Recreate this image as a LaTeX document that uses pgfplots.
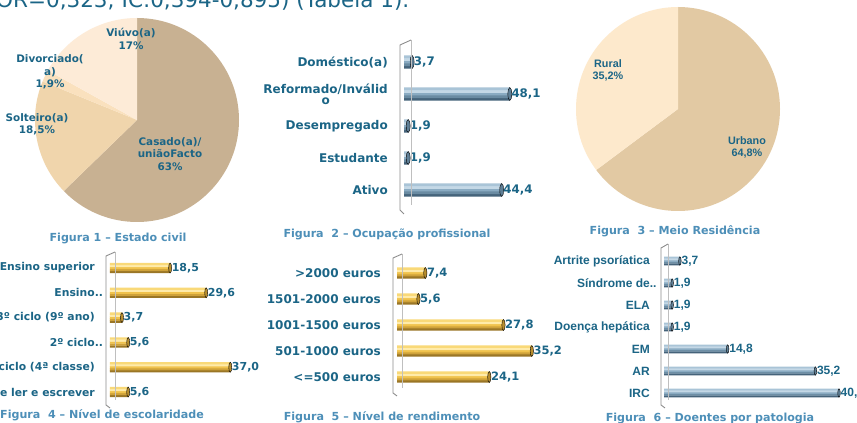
\documentclass[border=0pt]{standalone}
\usepackage{pgfplots}
\pgfplotsset{compat=1.18}
\usepackage{pgfplotstable}
\usepackage{fontspec}
\setmainfont{DejaVu Sans}
\newfontfamily\arialf{Liberation Sans}
\definecolor{lab}{HTML}{1B6586}
\definecolor{cap}{HTML}{4D8FB8}
\definecolor{cA}{HTML}{C8B192}
\definecolor{cB}{HTML}{F0D5AC}
\definecolor{cC}{HTML}{FAE1BE}
\definecolor{cD}{HTML}{FDEBD7}
\definecolor{uA}{HTML}{E2C9A3}
\definecolor{uB}{HTML}{FDE9CC}
\definecolor{b0}{HTML}{45637A}
\definecolor{b1}{HTML}{6A8BA2}
\definecolor{b2}{HTML}{8AABC2}
\definecolor{b3}{HTML}{A9C4D7}
\definecolor{b4}{HTML}{C4D8E6}
\definecolor{bE}{HTML}{5F7F96}
\definecolor{g0}{HTML}{9A7626}
\definecolor{g1}{HTML}{CFA23A}
\definecolor{g2}{HTML}{F0C24C}
\definecolor{g3}{HTML}{F9D978}
\definecolor{g4}{HTML}{FFEBAA}
\definecolor{gE}{HTML}{B88E2E}
\pgfplotstableread{
x y
44.4 0
1.9 1
1.9 2
48.1 3
3.7 4
}\dTwo
\pgfplotstableread{
x y
5.6 0
37.0 1
5.6 2
3.7 3
29.6 4
18.5 5
}\dFour
\pgfplotstableread{
x y
24.1 0
35.2 1
27.8 2
5.6 3
7.4 4
}\dFive
\pgfplotstableread{
x y
40.7 0
35.2 1
14.8 2
1.9 3
1.9 4
1.9 5
3.7 6
}\dSix
\pgfplotsset{
  hb/.style={scale only axis, anchor=south west, axis line style={draw=none},
    xtick=\empty, major tick length=0pt, clip=false, xmin=0, ymin=-0.5,
    yticklabel style={anchor=east, inner sep=0pt, text=lab}},
  strip/.style n args={3}{xbar, draw=none, fill=#1, bar width=#2, bar shift=#3},
  capm/.style 2 args={only marks, mark=*, mark size=#1, mark options={xscale=0.3, fill=#2, draw=none},
    point meta=x, nodes near coords={\pgfmathprintnumber[fixed,fixed zerofill,precision=1,use comma,assume math mode=true]{\pgfplotspointmeta}},
    every node near coord/.append style={anchor=west, inner sep=0pt, xshift=1.5bp, text=lab}},
}
\pgfmathsetmacro\pA{90-63/100.4*360}
\pgfmathsetmacro\pB{\pA-18.5/100.4*360}
\pgfmathsetmacro\pC{\pB-1.9/100.4*360}
\pgfmathsetmacro\qA{90-64.8/100*360}
\begin{document}
\begin{tikzpicture}
\path[use as bounding box] (0,0) rectangle (857bp,423bp);
\clip (0,0) rectangle (857bp,423bp);
\fill[white] (0,0) rectangle (857bp,423bp);
\node[anchor=base west, inner sep=0pt, text=lab, font=\fontsize{21.5bp}{24bp}\selectfont] at (-4bp,415.7bp) {OR=0,323; IC:0,394-0,895) (Tabela 1).};

% ---------- Figura 1 pie
\begin{axis}[at={(35bp,201bp)}, anchor=south west, scale only axis, width=204bp, height=204bp,
  xmin=-1, xmax=1, ymin=-1, ymax=1, hide axis, clip=false]
\fill[cA] (axis cs:0,0) -- ++(90:102bp) arc[start angle=90, end angle=\pA, radius=102bp] -- cycle;
\fill[cB] (axis cs:0,0) -- ++(\pA:102bp) arc[start angle=\pA, end angle=\pB, radius=102bp] -- cycle;
\fill[cC] (axis cs:0,0) -- ++(\pB:102bp) arc[start angle=\pB, end angle=\pC, radius=102bp] -- cycle;
\fill[cD] (axis cs:0,0) -- ++(\pC:102bp) arc[start angle=\pC, end angle=-270, radius=102bp] -- cycle;
\end{axis}

% ---------- Figura 3 pie
\begin{axis}[at={(576bp,212bp)}, anchor=south west, scale only axis, width=204bp, height=204bp,
  xmin=-1, xmax=1, ymin=-1, ymax=1, hide axis, clip=false]
\fill[uA] (axis cs:0,0) -- ++(90:102bp) arc[start angle=90, end angle=\qA, radius=102bp] -- cycle;
\fill[uB] (axis cs:0,0) -- ++(\qA:102bp) arc[start angle=\qA, end angle=-270, radius=102bp] -- cycle;
\end{axis}

% ---------- Figura 2
\begin{axis}[hb, at={(404bp,217bp)}, width=110bp, height=160bp, xmax=50, ymax=4.5,
  ytick={0,...,4},
  yticklabels={Ativo, Estudante, Desempregado, {\shortstack{Reformado/Inválid\\o}}, Doméstico(a)},
  yticklabel style={xshift=-16bp, font=\bfseries\fontsize{12bp}{13bp}\selectfont}]
\addplot[strip={b0}{2.9bp}{-5.2bp}] table[x=x,y=y]{\dTwo};
\addplot[strip={b1}{2.9bp}{-2.6bp}] table[x=x,y=y]{\dTwo};
\addplot[strip={b2}{2.9bp}{0bp}] table[x=x,y=y]{\dTwo};
\addplot[strip={b4}{2.9bp}{2.6bp}] table[x=x,y=y]{\dTwo};
\addplot[strip={b3}{2.9bp}{5.2bp}] table[x=x,y=y]{\dTwo};
\addplot[capm={6.5bp}{bE}, every node near coord/.append style={font=\bfseries\fontsize{11.8bp}{13bp}\selectfont}]
  table[x=x,y=y]{\dTwo};
\end{axis}

% ---------- Figura 4
\begin{axis}[hb, at={(110bp,18.6bp)}, width=130bp, height=148.8bp, xmax=40, ymax=5.5,
  ytick={0,...,5},
  yticklabels={Não sabe ler e escrever, 1º ciclo (4ª classe), 2º ciclo\rlap{..}, 3º ciclo (9º ano), Ensino\rlap{..}, Ensino superior},
  yticklabel style={xshift=-15bp, font=\bfseries\fontsize{10.8bp}{12bp}\selectfont}]
\addplot[strip={g0}{2.3bp}{-4bp}] table[x=x,y=y]{\dFour};
\addplot[strip={g1}{2.3bp}{-2bp}] table[x=x,y=y]{\dFour};
\addplot[strip={g2}{2.3bp}{0bp}] table[x=x,y=y]{\dFour};
\addplot[strip={g4}{2.3bp}{2bp}] table[x=x,y=y]{\dFour};
\addplot[strip={g3}{2.3bp}{4bp}] table[x=x,y=y]{\dFour};
\addplot[capm={5bp}{gE}, every node near coord/.append style={font=\bfseries\fontsize{11bp}{12bp}\selectfont}]
  table[x=x,y=y]{\dFour};
\end{axis}

% ---------- Figura 5
\begin{axis}[hb, at={(397bp,33bp)}, width=153.2bp, height=130bp, xmax=40, ymax=4.5,
  ytick={0,...,4},
  yticklabels={<=500 euros, 501-1000 euros, 1001-1500 euros, 1501-2000 euros, >2000 euros},
  yticklabel style={xshift=-16bp, font=\bfseries\fontsize{12bp}{13bp}\selectfont}]
\addplot[strip={g0}{2.5bp}{-4.4bp}] table[x=x,y=y]{\dFive};
\addplot[strip={g1}{2.5bp}{-2.2bp}] table[x=x,y=y]{\dFive};
\addplot[strip={g2}{2.5bp}{0bp}] table[x=x,y=y]{\dFive};
\addplot[strip={g4}{2.5bp}{2.2bp}] table[x=x,y=y]{\dFive};
\addplot[strip={g3}{2.5bp}{4.4bp}] table[x=x,y=y]{\dFive};
\addplot[capm={5.5bp}{gE}, every node near coord/.append style={font=\bfseries\fontsize{11.5bp}{13bp}\selectfont}]
  table[x=x,y=y]{\dFive};
\end{axis}

% ---------- Figura 6
\begin{axis}[hb, at={(664bp,19bp)}, width=193.5bp, height=154bp, xmax=45, ymax=6.5,
  ytick={0,...,6},
  yticklabels={IRC, AR, EM, Doença hepática, ELA, Síndrome de\rlap{..}, Artrite psoríatica},
  yticklabel style={xshift=-14bp, font=\arialf\bfseries\fontsize{12bp}{13bp}\selectfont}]
\addplot[strip={b0}{2bp}{-3.4bp}] table[x=x,y=y]{\dSix};
\addplot[strip={b1}{2bp}{-1.7bp}] table[x=x,y=y]{\dSix};
\addplot[strip={b2}{2bp}{0bp}] table[x=x,y=y]{\dSix};
\addplot[strip={b4}{2bp}{1.7bp}] table[x=x,y=y]{\dSix};
\addplot[strip={b3}{2bp}{3.4bp}] table[x=x,y=y]{\dSix};
\addplot[capm={4.25bp}{bE}, every node near coord/.append style={font=\arialf\bfseries\fontsize{12bp}{13bp}\selectfont}]
  table[x=x,y=y]{\dSix};
\end{axis}

% ---------- decorations in image coordinates
\begin{scope}[x=1bp, y=-1bp, shift={(0,423bp)}]
  % 3D walls
  \draw[black!25, line width=0.6bp] (411,40) -- (411,205);
  \draw[black!45, line width=0.9bp] (411,40) -- (400,45) -- (400,210) -- (404,214);
  \draw[black!25, line width=0.6bp] (115,252) -- (115,400);
  \draw[black!45, line width=0.9bp] (115,252) -- (106,256) -- (106,405) -- (110,408);
  \draw[black!25, line width=0.6bp] (402,254) -- (402,388);
  \draw[black!45, line width=0.9bp] (402,254) -- (393,258) -- (393,393) -- (397,396);
  \draw[black!25, line width=0.6bp] (668,244) -- (668,400);
  \draw[black!45, line width=0.9bp] (668,244) -- (661,248) -- (661,405) -- (665,408);
  % pie labels
  \begin{scope}[every node/.style={text=lab, align=center, inner sep=0pt,
      font=\bfseries\fontsize{10.4bp}{12.3bp}\selectfont}]
    \node at (131,39) {Viúvo(a)\\17\%};
    \node at (50,72) {Divorciado(\\a)\\1,9\%};
    \node at (37,124) {Solteiro(a)\\18,5\%};
    \node at (170,154) {Casado(a)/\\uniãoFacto\\63\%};
  \end{scope}
  \begin{scope}[every node/.style={text=lab, align=center, inner sep=0pt,
      font=\arialf\bfseries\fontsize{10.8bp}{12bp}\selectfont}]
    \node at (608,70) {Rural\\35,2\%};
    \node at (747,147) {Urbano\\64,8\%};
  \end{scope}
  % captions
  \begin{scope}[every node/.style={text=cap, inner sep=0pt,
      font=\bfseries\fontsize{11.1bp}{13bp}\selectfont}]
    \node at (118,238) {Figura 1 – Estado civil};
    \node at (387,234) {Figura\ \ 2 – Ocupação profissional};
    \node at (675,231) {Figura\ \ 3 – Meio Residência};
    \node at (102,415) {Figura\ \ 4 – Nível de escolaridade};
    \node at (382,417) {Figura\ \ 5 – Nível de rendimento};
    \node at (710,418) {Figura\ \ 6 – Doentes por patologia};
  \end{scope}
\end{scope}
\end{tikzpicture}
\end{document}
